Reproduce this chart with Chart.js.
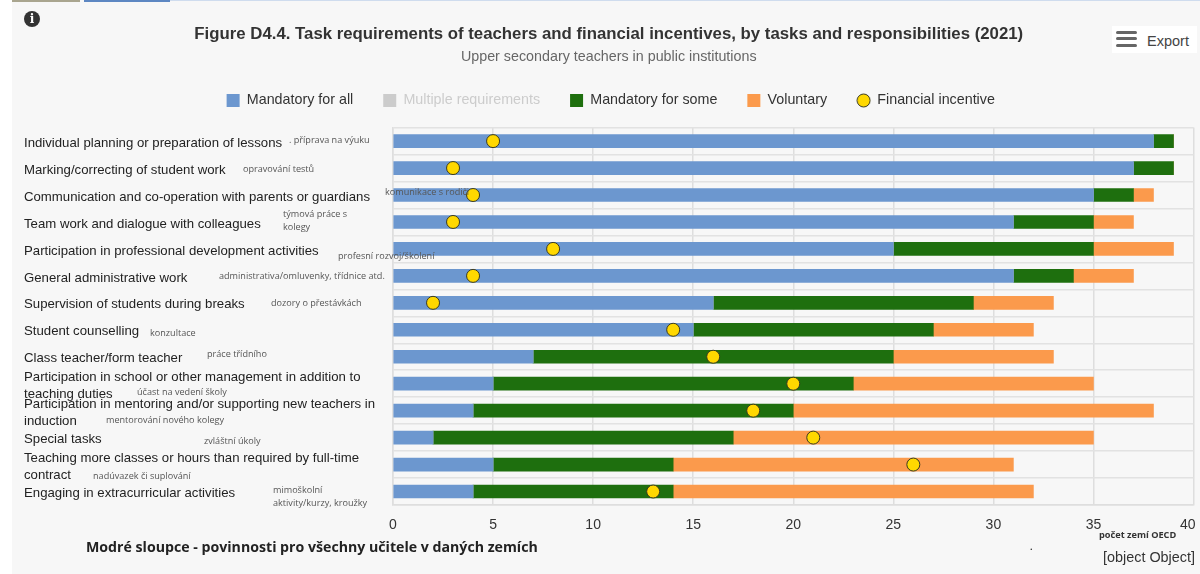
<!DOCTYPE html>
<html lang="en"><head><meta charset="utf-8">
<script src="https://cdn.jsdelivr.net/npm/chart.js@4"></script>
<style>
html,body{margin:0;padding:0;background:#fff;overflow:hidden}
#page{position:relative;width:1200px;height:574px;overflow:hidden;font-family:"Liberation Sans",Arial,sans-serif}
#bg{position:absolute;left:12px;top:0;width:1188px;height:574px;background:#f7f7f7}
canvas{position:absolute;left:0;top:0}
.abs{position:absolute;white-space:nowrap}
.note{font:9.1px/13px "Open Sans",sans-serif;color:#555;transform:translateY(-50%)}
</style></head><body>
<div id="page">
<div id="bg"></div>
<div class="abs" style="left:12px;top:0;width:68px;height:2px;background:#a9a58f"></div>
<div class="abs" style="left:84px;top:0;width:86px;height:2px;background:#5d87c2"></div>
<div class="abs" style="left:170px;top:0;width:1030px;height:1px;background:#cfdcee"></div>
<div style="position:absolute;left:0;top:0;width:1200px;height:574px"><canvas id="c" width="1200" height="574"></canvas></div>
<div class="abs" style="left:24px;top:11px;width:16px;height:16px;border-radius:50%;background:#333;color:#fff;font:bold 12px/16px 'DejaVu Serif',serif;text-align:center">i</div>
<div class="abs" style="left:1112px;top:26px;width:85px;height:27px;background:#fff"></div>
<div class="abs" style="left:1116px;top:31px;width:21px;height:3px;border-radius:2px;background:#666"></div>
<div class="abs" style="left:1116px;top:37px;width:21px;height:3px;border-radius:2px;background:#666"></div>
<div class="abs" style="left:1116px;top:44px;width:21px;height:3px;border-radius:2px;background:#666"></div>
<div class="abs" style="left:1147px;top:32px;font-size:14.5px;line-height:18px;color:#444">Export</div>
<div id="notes"></div>
<div class="abs" style="left:86px;top:537px;font:bold 14.16px/20px 'Open Sans',sans-serif;color:#222">Modré sloupce - povinnosti pro všechny učitele v daných zemích</div>
<div class="abs" style="left:1099px;top:529px;font:bold 9.2px/12px 'Open Sans',sans-serif;color:#333">počet zemí OECD</div>
<div class="abs" style="left:1030px;top:541px;font:bold 9px/12px 'Open Sans',sans-serif;color:#333">.</div>
<div class="abs" style="right:5px;top:549px;font-size:14.4px;line-height:16px;color:#333">[object Object]</div>
</div>
<script>
const categories = [
  ["Individual planning or preparation of lessons"],
  ["Marking/correcting of student work"],
  ["Communication and co-operation with parents or guardians"],
  ["Team work and dialogue with colleagues"],
  ["Participation in professional development activities"],
  ["General administrative work"],
  ["Supervision of students during breaks"],
  ["Student counselling"],
  ["Class teacher/form teacher"],
  ["Participation in school or other management in addition to","teaching duties"],
  ["Participation in mentoring and/or supporting new teachers in","induction"],
  ["Special tasks"],
  ["Teaching more classes or hours than required by full-time","contract"],
  ["Engaging in extracurricular activities"]
];
const mandatoryAll  = [38,37,35,31,25,31,16,15,7,5,4,2,5,4];
const multipleReq   = [0,0,0,0,0,0,0,0,0,0,0,0,0,0];
const mandatorySome = [1,2,2,4,10,3,13,12,18,18,16,15,9,10];
const voluntary     = [0,0,1,2,4,3,4,5,8,12,18,18,17,18];
const incentive     = [5,3,4,3,8,4,2,14,16,20,18,21,26,13];
const noteTexts = [
  ". příprava na výuku","opravování testů","komunikace s rodiči","týmová práce s<br>kolegy",
  "profesní rozvoj/školení","administrativa/omluvenky, třídnice atd.","dozory o přestávkách",
  "konzultace","práce třídního","účast na vedení školy","mentorování nového kolegy",
  "zvláštní úkoly","nadúvazek či suplování","mimoškolní<br>aktivity/kurzy, kroužky"
];
const noteLeft = [289,243,385,283,338,219,271,150,207,137,106,204,93,273];
const noteMid  = [139,168,191,220,255,275,302,332,353,391,419,440,475,496];

document.getElementById('notes').innerHTML = noteTexts.map((t,i)=>
  `<div class="abs note" style="left:${noteLeft[i]}px;top:${noteMid[i]}px">${t}</div>`).join('');

const FONT = '"Liberation Sans",Arial,sans-serif';
const bar = (label,data,color)=>({type:'bar',label,data,backgroundColor:color,borderWidth:0,
  barThickness:13,order:2,pointStyle:'rect'});

const legendDot = document.createElement('canvas');
legendDot.width = legendDot.height = 15;
{const g = legendDot.getContext('2d');
 g.beginPath();g.arc(7.5,7.5,6.5,0,Math.PI*2);
 g.fillStyle='#ffd800';g.fill();g.strokeStyle='#3a3a20';g.lineWidth=1;g.stroke();}

const shifted = (obj,name,dx,dy)=>{
  const fn = obj[name];
  obj[name] = function(...a){
    const c = this.ctx; c.save(); c.translate(dx,dy); fn.apply(this,a); c.restore();
  };
};
const legendGap = {id:'legendGap',beforeLayout(chart){
  const lg = chart.legend;
  if(lg._gapDone) return;
  lg._gapDone = true;
  const fit = lg.fit;
  lg.fit = function(){fit.call(this);this.height += 10;};
  shifted(lg,'draw',2,0);
  shifted(chart.scales.y,'drawLabels',0,2);
}};

new Chart(document.getElementById('c'),{
  plugins:[legendGap],
  data:{labels:categories,datasets:[
    bar('Mandatory for all',mandatoryAll,'#6c97cf'),
    bar('Multiple requirements',multipleReq,'#cccccc'),
    bar('Mandatory for some',mandatorySome,'#1e6f0e'),
    bar('Voluntary',voluntary,'#fb9a4c'),
    {type:'line',label:'Financial incentive',data:incentive,showLine:false,order:1,
     pointStyle:'circle',pointRadius:6.5,pointHoverRadius:6.5,
     backgroundColor:'#ffd800',borderColor:'#3a3a20',pointBorderWidth:1}
  ]},
  options:{
    indexAxis:'y',responsive:false,animation:false,
    layout:{autoPadding:false,padding:{left:24,right:6.5,top:24,bottom:0}},
    scales:{
      x:{stacked:true,min:0,max:40,
        afterFit(s){s.height=69;s.paddingLeft=0;s.paddingRight=0;},
        grid:{color:'#dedede',lineWidth:1.5,drawTicks:false},
        border:{color:'#dedede',width:1.5},
        ticks:{stepSize:5,padding:12,maxRotation:0,color:'#333',
          font:{family:FONT,size:14},
          callback:v=>v===40?'40   ':String(v)}},
      y:{stacked:true,
        afterFit(s){s.width=369;s.paddingTop=0;s.paddingBottom=0;},
        grid:{color:'#e2e2e2',lineWidth:1.5,drawTicks:false},
        border:{color:'#dedede',width:1.5},
        ticks:{autoSkip:false,crossAlign:'far',padding:0,color:'#222',
          font:{family:FONT,size:13.2,lineHeight:1.28}}}
    },
    plugins:{
      tooltip:{enabled:false},
      title:{display:true,text:'Figure D4.4. Task requirements of teachers and financial incentives, by tasks and responsibilities (2021)',
        color:'#333',font:{family:FONT,size:16.8,weight:'bold'},padding:{top:0,bottom:2}},
      subtitle:{display:true,text:'Upper secondary teachers in public institutions',
        color:'#666',font:{family:FONT,size:14.3},padding:{top:2,bottom:-2}},
      legend:{position:'top',align:'center',
        labels:{usePointStyle:true,boxWidth:13,boxHeight:13,padding:30,color:'#333',
          font:{family:FONT,size:14.3},
          sort:(a,b)=>a.datasetIndex-b.datasetIndex,
          generateLabels(chart){
            const items=Chart.defaults.plugins.legend.labels.generateLabels(chart);
            items.forEach(it=>{
              it.lineWidth=0;
              if(it.datasetIndex===1)it.fontColor='#cccccc';
              if(it.datasetIndex===4)it.pointStyle=legendDot;
            });
            return items;
          }}}
    }
  }
});
</script>
</body></html>
